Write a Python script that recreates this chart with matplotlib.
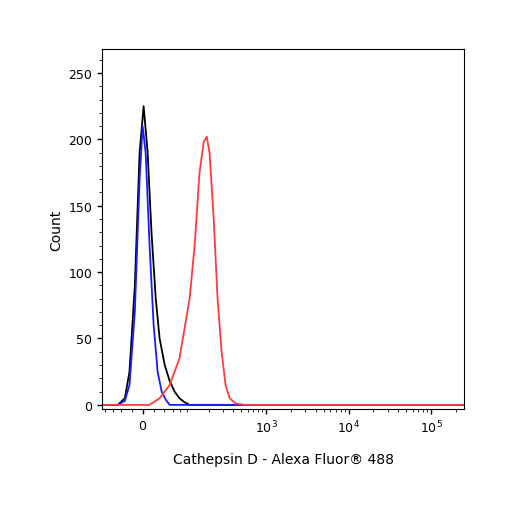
import numpy as np
import matplotlib
matplotlib.use("Agg")
import matplotlib.pyplot as plt

W = 64.0
def fwd(x): return np.arcsinh(np.asarray(x, float) / W) / np.log(10)
def inv(y): return W * np.sinh(np.asarray(y, float) * np.log(10))

black_x = [-89, -48, -33, -24, -14, -5.4, 1.8, 9, 16, 24, 31.5, 42, 53, 65, 78, 93, 110, 250000]
black_y = [0, 0, 5, 25, 90, 190, 225, 190, 130, 80, 50, 30, 18, 10, 5, 2, 0, 0]
blue_x = [-89, -48, -33, -24, -14, -5.4, 0, 5.4, 12.5, 20, 27.6, 35.6, 44, 53, 250000]
blue_y = [0, 0, 3, 15, 70, 170, 210, 190, 120, 60, 25, 10, 4, 0, 0]
red_x = [-89, 12.5, 31.5, 53, 78, 110, 129, 150, 170, 186, 202, 228, 255, 286, 320, 360, 427, 550, 250000]
red_y = [0, 0, 5, 15, 35, 80, 120, 175, 198, 202, 190, 140, 80, 40, 15, 5, 1, 0, 0]

fig = plt.figure(figsize=(5.06, 5.06), dpi=100)
ax = fig.add_axes([0.2016, 0.190, 0.7154, 0.711])
ax.set_xscale('function', functions=(fwd, inv))
ax.plot(black_x, black_y, color='black', lw=1.3)
ax.plot(blue_x, blue_y, color='#1a1aff', lw=1.3)
ax.plot(red_x, red_y, color='#ff3b3b', lw=1.3)
ax.set_xlim(-89, 250000)
ax.set_ylim(-3, 268)
ax.set_xticks([0, 1000, 10000, 100000])
ax.set_xticklabels(['0', '10$^3$', '10$^4$', '10$^5$'])
minors = [-80, -60, -40, -20, 20, 40, 60, 80, 100, 200, 300, 400, 500, 600, 700, 800, 900]
minors += [k * 1000 for k in range(2, 10)] + [k * 10000 for k in range(2, 10)] + [200000]
ax.set_xticks(minors, minor=True)
ax.set_yticks([0, 50, 100, 150, 200, 250])
ax.set_yticks(np.arange(0, 261, 10), minor=True)
ax.tick_params(labelsize=9, width=1)
ax.tick_params(which='minor', length=2.5)
ax.set_xlabel('Cathepsin D - Alexa Fluor® 488', fontsize=10, labelpad=12)
ax.set_ylabel('Count', fontsize=10)
fig.savefig('out.png', dpi=100)
